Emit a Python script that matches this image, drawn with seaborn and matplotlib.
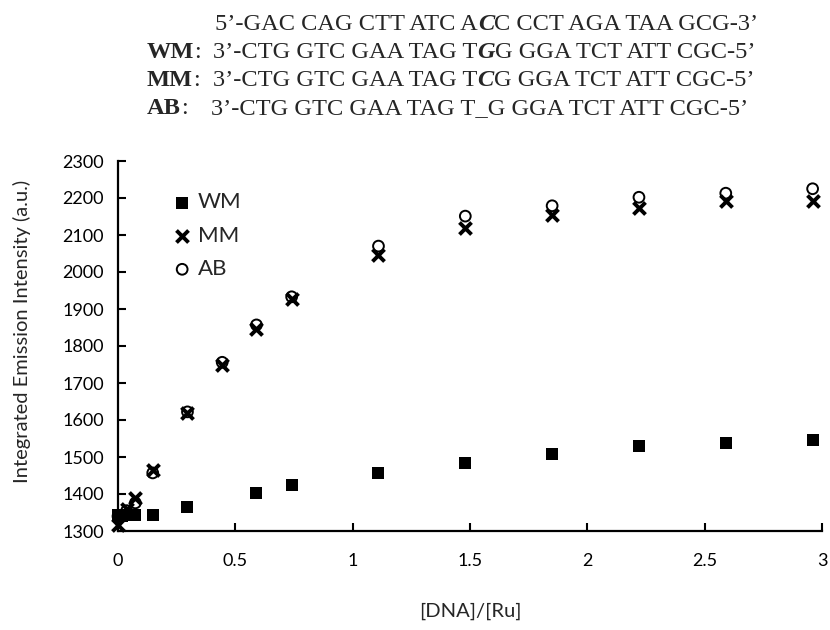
import numpy as np
import pandas as pd
import matplotlib
matplotlib.use("Agg")
import matplotlib.pyplot as plt
import seaborn as sns

# ---- data ----
wm_x = [0, 0.018, 0.037, 0.074, 0.148, 0.296, 0.59, 0.74, 1.11, 1.48, 1.85, 2.22, 2.59, 2.96]
wm_y = [1343, 1340, 1343, 1343, 1342, 1365, 1402, 1425, 1457, 1484, 1507, 1530, 1539, 1547]
mm_x = [0, 0.037, 0.074, 0.148, 0.296, 0.444, 0.59, 0.74, 1.11, 1.48, 1.85, 2.22, 2.59, 2.96]
mm_y = [1315, 1359, 1389, 1465, 1620, 1748, 1846, 1927, 2045, 2119, 2155, 2174, 2191, 2191]
ab_x = [0, 0.037, 0.074, 0.148, 0.296, 0.444, 0.59, 0.74, 1.11, 1.48, 1.85, 2.22, 2.59, 2.96]
ab_y = [1340, 1355, 1376, 1457, 1622, 1756, 1857, 1933, 2070, 2151, 2179, 2202, 2213, 2225]
x_ticks = [0, 0.5, 1, 1.5, 2, 2.5, 3]
x_tick_labels = ["0", "0.5", "1", "1.5", "2", "2.5", "3"]
y_ticks = list(range(1300, 2301, 100))

df = pd.concat([
    pd.DataFrame({"x": wm_x, "y": wm_y, "series": "WM"}),
    pd.DataFrame({"x": mm_x, "y": mm_y, "series": "MM"}),
    pd.DataFrame({"x": ab_x, "y": ab_y, "series": "AB"}),
])

sns.set_style("white")
plt.rcParams["font.family"] = ["Lato", "DejaVu Sans"]

W, H = 830, 630
fig = plt.figure(figsize=(W / 100, H / 100), dpi=100)
ax = fig.add_axes([118 / W, 1 - 531 / H, (822 - 118) / W, (531 - 161) / H])

sns.scatterplot(data=df[df.series == "WM"], x="x", y="y", marker="s", s=80,
                color="black", edgecolor="black", linewidth=0, ax=ax, label="WM",
                clip_on=False, zorder=3)
sns.scatterplot(data=df[df.series == "MM"], x="x", y="y", marker="x", s=75,
                color="black", linewidth=2.8, ax=ax, label="MM",
                clip_on=False, zorder=4)
sns.scatterplot(data=df[df.series == "AB"], x="x", y="y", marker="o", s=60,
                facecolor="none", edgecolor="black", linewidth=1.4, ax=ax, label="AB",
                clip_on=False, zorder=5)

ax.set_xlim(0, 3)
ax.set_ylim(1300, 2300)
ax.set_xticks(x_ticks)
ax.set_xticklabels(x_tick_labels)
ax.set_yticks(y_ticks)
ax.tick_params(direction="in", length=6, width=1.5, labelsize=13, colors="black",
               left=True, bottom=True, pad=10)
ax.tick_params(axis="x", pad=16)
for side in ["top", "right"]:
    ax.spines[side].set_visible(False)
for side in ["left", "bottom"]:
    ax.spines[side].set_linewidth(1.6)
    ax.spines[side].set_color("black")
ax.set_xlabel("[DNA]/[Ru]", fontsize=14.5, labelpad=24)
ax.set_ylabel("Integrated Emission Intensity (a.u.)", fontsize=14.5)
ax.yaxis.set_label_coords(-0.124, 0.54)

leg = ax.legend(loc="upper left", bbox_to_anchor=(0.058, 0.945), frameon=False,
                fontsize=16, handletextpad=0.15, labelspacing=0.6, handlelength=1.1,
                borderpad=0)

# ---- header text (serif, mixed styles) ----
serif = ["Liberation Serif", "DejaVu Serif"]
fs = 17.6


def line(x_px, bottom_px, pieces):
    prev = fig.text(x_px / W, 1 - bottom_px / H, pieces[0][0], family=serif, fontsize=fs,
                    weight=pieces[0][1], style=pieces[0][2], va="bottom", ha="left")
    for txt, weight, style in pieces[1:]:
        prev = fig.add_artist(matplotlib.text.Annotation(
            txt, xy=(1, 0), xycoords=prev, xytext=(1, 0), textcoords=prev,
            family=serif, fontsize=fs, weight=weight, style=style,
            va="bottom", ha="left", annotation_clip=False))
    return prev


N, B = "normal", "bold"
line(215, 35, [("5’-GAC CAG CTT ATC A", N, "normal"), ("C", B, "italic"),
               ("C CCT AGA TAA GCG-3’", N, "normal")])
line(147, 63, [("WM", B, "normal"), (":", N, "normal")])
line(213, 63, [("3’-CTG GTC GAA TAG T", N, "normal"), ("G", B, "italic"),
               ("G GGA TCT ATT CGC-5’", N, "normal")])
line(147, 91, [("MM", B, "normal"), (":", N, "normal")])
line(213, 91, [("3’-CTG GTC GAA TAG T", N, "normal"), ("C", B, "italic"),
               ("G GGA TCT ATT CGC-5’", N, "normal")])
line(147, 119, [("AB", B, "normal"), (":", N, "normal")])
line(211, 119, [("3’-CTG GTC GAA TAG T_G GGA TCT ATT CGC-5’", N, "normal")])

fig.savefig("out.png", dpi=100, facecolor="white")
